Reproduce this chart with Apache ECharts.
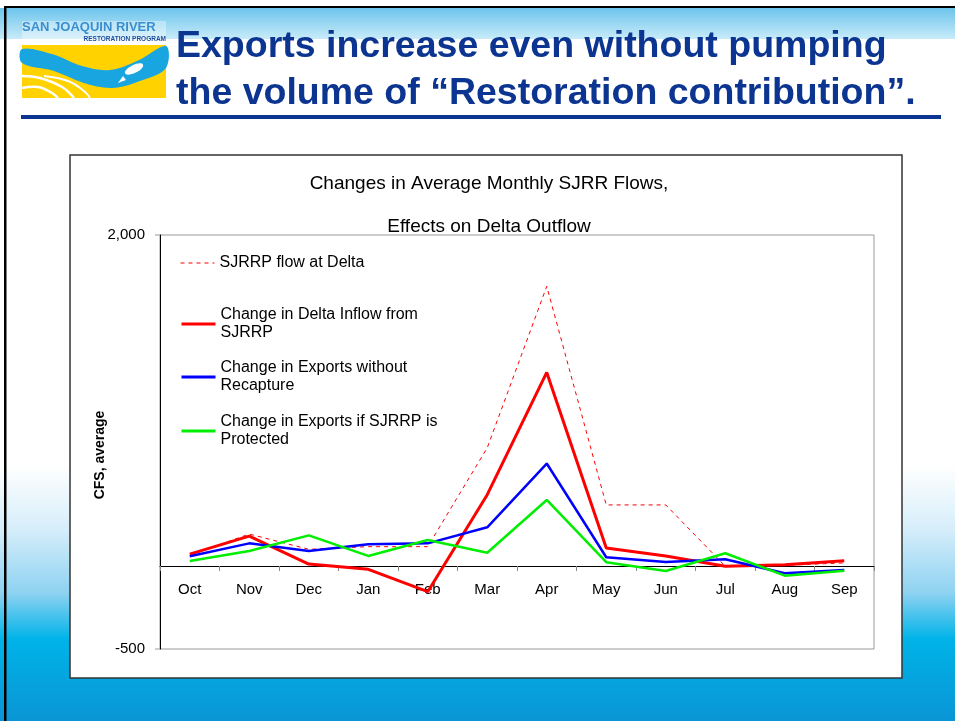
<!DOCTYPE html>
<html>
<head>
<meta charset="utf-8">
<title>Exports increase even without pumping</title>
<script src="https://cdn.jsdelivr.net/npm/echarts@6/dist/echarts.min.js"></script>
<style>
  html, body { margin: 0; padding: 0; background: #fff; }
  #main { width: 955px; height: 721px; }
</style>
</head>
<body>
<div id="main"></div>
<script>
// data
var months = ["Oct", "Nov", "Dec", "Jan", "Feb", "Mar", "Apr", "May", "Jun", "Jul", "Aug", "Sep"];
var sjrrpFlow = [66, 194, 102, 118, 118, 715, 1690, 370, 370, 0, 5, 20];
var deltaInflow = [73, 182, 13, -19, -154, 432, 1170, 110, 62, 0, 9, 33];
var exportsNoRecapture = [60, 138, 92, 132, 138, 235, 620, 54, 25, 42, -43, -23];
var exportsProtected = [31, 92, 186, 62, 158, 81, 400, 24, -29, 78, -57, -27];

var seriesNames = [
  "SJRRP flow at Delta",
  "Change in Delta Inflow from SJRRP",
  "Change in Exports without Recapture",
  "Change in Exports if SJRRP is Protected"
];
// wrapped legend text, as in the original
var legendText = {
  "SJRRP flow at Delta": "SJRRP flow at Delta",
  "Change in Delta Inflow from SJRRP": "Change in Delta Inflow from\nSJRRP",
  "Change in Exports without Recapture": "Change in Exports without\nRecapture",
  "Change in Exports if SJRRP is Protected": "Change in Exports if SJRRP is\nProtected"
};

var FONT = "'Liberation Sans', Arial, sans-serif";
var navy = "#0b3590";

var myChart = echarts.init(document.getElementById("main"));

function legendFor(idx, top, width) {
  return {
    data: [seriesNames[idx]],
    orient: "vertical",
    left: 175,
    top: top,
    itemWidth: 34,
    itemHeight: 14,
    lineStyle: { width: width },
    itemStyle: { opacity: 0 },
    formatter: function (name) {
      return legendText[name];
    },
    textStyle: { fontFamily: FONT, fontSize: 16, lineHeight: 18, color: "#000" }
  };
}

var option = {
  animation: false,
  title: [
    {
      text: "Exports increase even without pumping\nthe volume of \u201cRestoration contribution\u201d.",
      left: 171,
      top: 18,
      textStyle: {
        fontFamily: FONT,
        fontSize: 37.5,
        fontWeight: "bold",
        lineHeight: 47,
        color: navy
      }
    },
    {
      text: "Changes in Average Monthly SJRR Flows,\n\nEffects on Delta Outflow",
      left: 484,
      top: 168,
      textAlign: "center",
      textStyle: {
        fontFamily: FONT,
        fontSize: 19,
        fontWeight: "normal",
        lineHeight: 21.5,
        color: "#000"
      }
    }
  ],
  legend: [
    legendFor(0, 249, 1),
    legendFor(1, 301, 3),
    legendFor(2, 354, 3),
    legendFor(3, 408, 3)
  ],
  grid: {
    left: 160,
    right: 81,
    top: 235,
    bottom: 72,
    show: true,
    borderColor: "#999",
    borderWidth: 1,
    backgroundColor: "#fff"
  },
  xAxis: {
    type: "category",
    data: months,
    boundaryGap: true,
    // axis sits on the zero line (-500..2000 over 414px)
    offset: -83,
    axisLine: { onZero: false, lineStyle: { color: "#000", width: 1 } },
    axisTick: { show: true, interval: 0, length: 5, lineStyle: { color: "#888" } },
    axisLabel: { interval: 0, margin: 16, fontFamily: FONT, fontSize: 15, color: "#000" },
    splitLine: { show: false }
  },
  yAxis: {
    type: "value",
    min: -500,
    max: 2000,
    interval: 500,
    name: "CFS, average",
    nameLocation: "middle",
    nameGap: 53,
    nameMoveOverlap: false,
    nameRotate: 90,
    nameTextStyle: {
      fontFamily: FONT,
      fontSize: 14,
      fontWeight: "bold",
      color: "#000",
      padding: [0, 26, 0, 0]
    },
    axisLine: { show: true, lineStyle: { color: "#000", width: 1 } },
    axisTick: { show: false },
    splitLine: { show: false },
    axisLabel: {
      margin: 15,
      fontFamily: FONT,
      fontSize: 15,
      color: "#000",
      formatter: function (v) {
        if (v === 2000) return "2,000";
        if (v === -500) return "-500";
        return "";
      }
    }
  },
  series: [
    {
      name: seriesNames[0],
      type: "line",
      data: sjrrpFlow,
      symbol: "none",
      color: "#ff0000",
      lineStyle: { color: "#ff0000", width: 1, type: [4, 4] }
    },
    {
      name: seriesNames[1],
      type: "line",
      data: deltaInflow,
      symbol: "none",
      color: "#ff0000",
      lineStyle: { color: "#ff0000", width: 3 }
    },
    {
      name: seriesNames[2],
      type: "line",
      data: exportsNoRecapture,
      symbol: "none",
      color: "#0000ff",
      lineStyle: { color: "#0000ff", width: 2.5 }
    },
    {
      name: seriesNames[3],
      type: "line",
      data: exportsProtected,
      symbol: "none",
      color: "#00ee00",
      lineStyle: { color: "#00ee00", width: 2.5 }
    }
  ],
  graphic: [
    // slide background: light blue band on top
    {
      type: "rect", z: -100, silent: true,
      shape: { x: 0, y: 8, width: 955, height: 31 },
      style: {
        fill: new echarts.graphic.LinearGradient(0, 0, 0, 1, [
          { offset: 0, color: "#6cc4ec" },
          { offset: 1, color: "#c8ebf9" }
        ])
      }
    },
    // bottom water gradient
    {
      type: "rect", z: -100, silent: true,
      shape: { x: 0, y: 465, width: 955, height: 256 },
      style: {
        fill: new echarts.graphic.LinearGradient(0, 0, 0, 1, [
          { offset: 0, color: "#ffffff" },
          { offset: 0.25, color: "#d6eefa" },
          { offset: 0.5, color: "#8ed2f1" },
          { offset: 0.68, color: "#00b3e8" },
          { offset: 1, color: "#0a95d5" }
        ])
      }
    },
    // slide frame lines
    {
      type: "rect", z: -90, silent: true,
      shape: { x: 4, y: 6, width: 951, height: 2 },
      style: { fill: "#000" }
    },
    {
      type: "rect", z: -90, silent: true,
      shape: { x: 4, y: 6, width: 2.5, height: 715 },
      style: { fill: "#000" }
    },
    // title rule
    {
      type: "rect", z: -90, silent: true,
      shape: { x: 21, y: 115, width: 920, height: 4 },
      style: { fill: navy }
    },
    // chart box
    {
      type: "rect", z: -80, silent: true,
      shape: { x: 70, y: 155, width: 832, height: 523 },
      style: { fill: "#fff", stroke: "#333", lineWidth: 1.5 }
    },
    // small ticks left of the value axis at 2,000 and -500
    {
      type: "rect", z: -70, silent: true,
      shape: { x: 155, y: 234.5, width: 5, height: 1 },
      style: { fill: "#999" }
    },
    {
      type: "rect", z: -70, silent: true,
      shape: { x: 155, y: 648.5, width: 5, height: 1 },
      style: { fill: "#999" }
    },
    // logo
    {
      type: "group", z: -70, x: 22, y: 21, silent: true,
      children: [
        {
          type: "rect",
          shape: { x: 0, y: 24, width: 144, height: 53 },
          style: { fill: "#ffd200" }
        },
        {
          type: "polygon",
          shape: {
            smooth: 0.35,
            points: [[0, 28], [30, 33], [60, 45], [88, 49], [115, 40], [144, 25],
                     [144, 47], [118, 60], [90, 67], [62, 62], [32, 50], [0, 42]]
          },
          style: { fill: "#19a6e0" }
        },
        {
          type: "polyline",
          shape: { points: [[0, 55], [18, 57], [40, 66], [52, 77]], smooth: 0.4 },
          style: { stroke: "#fff", lineWidth: 2.5, fill: null }
        },
        {
          type: "polyline",
          shape: { points: [[0, 67], [16, 66], [30, 72], [36, 77]], smooth: 0.4 },
          style: { stroke: "#fff", lineWidth: 2.5, fill: null }
        },
        {
          type: "polyline",
          shape: { points: [[22, 55], [46, 60], [62, 70], [68, 77]], smooth: 0.4 },
          style: { stroke: "#fff", lineWidth: 2, fill: null }
        },
        {
          type: "ellipse",
          shape: { cx: 112, cy: 48, rx: 10, ry: 4 },
          rotation: 0.45,
          originX: 112, originY: 48,
          style: { fill: "#fff" }
        },
        {
          type: "polygon",
          shape: { points: [[101, 55], [96, 62], [104, 59]] },
          style: { fill: "#fff" }
        },
        {
          type: "rect",
          shape: { x: 0, y: 0, width: 144, height: 24 },
          style: { fill: "rgba(255,255,255,0.35)" }
        },
        {
          type: "text",
          x: 0, y: 0,
          style: {
            text: "SAN JOAQUIN RIVER",
            fontFamily: FONT, fontSize: 13, fontWeight: "bold",
            fill: "#3a8fd0", verticalAlign: "top"
          }
        },
        {
          type: "text",
          x: 144, y: 15,
          style: {
            text: "RESTORATION PROGRAM",
            fontFamily: FONT, fontSize: 6.5, fontWeight: "bold",
            fill: "#1d4d9b", align: "right", verticalAlign: "top"
          }
        }
      ]
    }
  ]
};

myChart.setOption(option);
</script>
</body>
</html>
